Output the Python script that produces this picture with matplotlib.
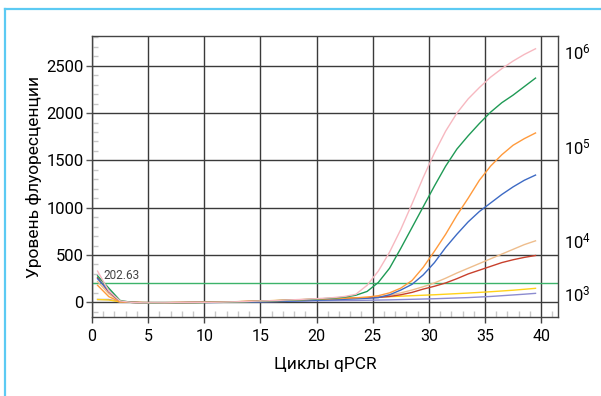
import matplotlib
matplotlib.use("Agg")
import matplotlib.pyplot as plt
import matplotlib.transforms as mtransforms
from matplotlib.lines import Line2D
import numpy as np

plt.rcParams["font.family"] = ["Roboto", "DejaVu Sans"]
plt.rcParams["mathtext.fontset"] = "custom"
plt.rcParams["mathtext.rm"] = "Roboto"
plt.rcParams["mathtext.it"] = "Roboto"

# qPCR cycles (curve points are drawn at cycle - 0.5)
cycles = np.arange(0.5, 40, 1.0)

pink = [330, 120, 15, 0, -5, -5, -5, -3, -2, 0, 0, 2, 5, 8, 12, 16, 20, 25, 30, 36,
        42, 50, 62, 85, 180, 330, 530, 770, 1040, 1320, 1580, 1810, 2000, 2150, 2270, 2380,
        2470, 2550, 2620, 2680]
green = [280, 150, 20, 0, -5, -8, -5, -5, -3, -2, 0, 0, 3, 6, 10, 14, 18, 22, 27, 32,
         38, 45, 55, 75, 115, 210, 360, 570, 790, 1010, 1230, 1440, 1620, 1760, 1890, 2010,
         2110, 2190, 2280, 2370]
orange = [180, 60, 5, 0, -3, -5, -5, -3, -2, 0, 2, 4, 6, 8, 12, 15, 18, 22, 26, 30,
          34, 38, 43, 48, 55, 70, 100, 150, 230, 370, 540, 720, 920, 1100, 1290, 1440,
          1560, 1660, 1730, 1790]
blue = [250, 120, 10, 0, -5, -5, -5, -4, -3, -2, -2, 0, 2, 4, 6, 8, 10, 13, 16, 20,
        24, 28, 32, 37, 43, 50, 80, 130, 190, 290, 420, 580, 720, 850, 960, 1050,
        1140, 1220, 1290, 1345]
tan = [220, 90, 8, 0, -3, -4, -4, -3, -2, 0, 2, 4, 6, 9, 12, 15, 18, 22, 26, 30,
       34, 38, 42, 46, 50, 57, 75, 100, 130, 165, 205, 255, 310, 360, 410, 460,
       510, 560, 610, 650]
red = [260, 110, 10, 0, -4, -5, -4, -3, -2, 0, 1, 3, 5, 8, 11, 14, 17, 21, 25, 29,
       33, 37, 41, 45, 48, 52, 62, 80, 105, 140, 170, 205, 250, 300, 340, 380,
       420, 450, 475, 495]
yellow = [30, 25, 5, 0, -2, -3, -3, -2, -2, -3, 0, 2, 5, 8, 12, 16, 20, 24, 28, 32,
          36, 40, 44, 48, 52, 56, 60, 65, 70, 75, 80, 86, 92, 98, 105, 112,
          120, 128, 138, 148]
purple = [30, 30, 5, 0, -2, -3, -3, -3, -2, -1, 0, 1, 2, 3, 5, 7, 9, 11, 13, 15,
          17, 18, 19, 20, 22, 24, 26, 29, 32, 35, 38, 42, 46, 50, 56, 62,
          70, 78, 86, 95]

threshold = 202.63

conc_labels = ["$10^6$", "$10^5$", "$10^4$", "$10^3$"]
conc_y = [2640, 1640, 640, 85]

fig = plt.figure(figsize=(6.01, 3.96), dpi=100)
ax = fig.add_axes([0.153, 0.1995, 0.7754, 0.7096])

series = [
    (purple, "#8c8cd0"),
    (yellow, "#ffd21a"),
    (tan, "#eebd8c"),
    (red, "#c8402c"),
    (blue, "#3d6ac4"),
    (orange, "#ff9a3c"),
    (green, "#1f9a55"),
    (pink, "#f7b8c0"),
]
for vals, col in series:
    ax.plot(cycles, vals, color=col, lw=1.0, zorder=3)

ax.axhline(threshold, color="#3cb36a", lw=1.0, zorder=2)
ax.text(1.0, threshold + 12, "%.2f" % threshold, fontsize=8.5, color="#444444",
        ha="left", va="bottom", zorder=4)

ax.set_xlim(0, 41.5)
ax.set_ylim(-155, 2815)
ax.set_xticks(np.arange(0, 41, 5))
ax.set_yticks(np.arange(0, 2501, 500))
ax.set_xticks(np.arange(0, 41.5, 1), minor=True)
ax.set_yticks(np.arange(-100, 2801, 100), minor=True)

ax.grid(True, which="major", color="#3a3a3a", lw=1.0)
ax.set_axisbelow(True)

ax.tick_params(axis="x", which="major", length=4, width=1, direction="out",
               pad=5, labelsize=11.5, color="#444444")
ax.tick_params(axis="y", which="major", length=4, width=1, direction="out",
               pad=2, labelsize=12, color="#555555")
ax.tick_params(axis="both", which="minor", direction="in", length=4, width=1,
               color="#c8c8c8")

for s in ax.spines.values():
    s.set_color("#444444")
    s.set_linewidth(1.0)

ax.set_xlabel("Циклы qPCR", fontsize=12.5, labelpad=9)
ax.set_ylabel("Уровень флуоресценции", fontsize=12.5, labelpad=3)

trans = mtransforms.blended_transform_factory(ax.transAxes, ax.transData)
for lab, yv in zip(conc_labels, conc_y):
    ax.text(1.012, yv, lab, transform=trans, fontsize=12, ha="left", va="center")

# light blue frame (left and top edges) around the figure
bx = 5 / 601
by = 1 - 8.5 / 396
fig.add_artist(Line2D([bx, bx], [0, by], transform=fig.transFigure,
                      color="#5ccaf3", lw=1.6))
fig.add_artist(Line2D([bx, 1], [by, by], transform=fig.transFigure,
                      color="#5ccaf3", lw=1.6))

plt.savefig("out.png", dpi=100)
